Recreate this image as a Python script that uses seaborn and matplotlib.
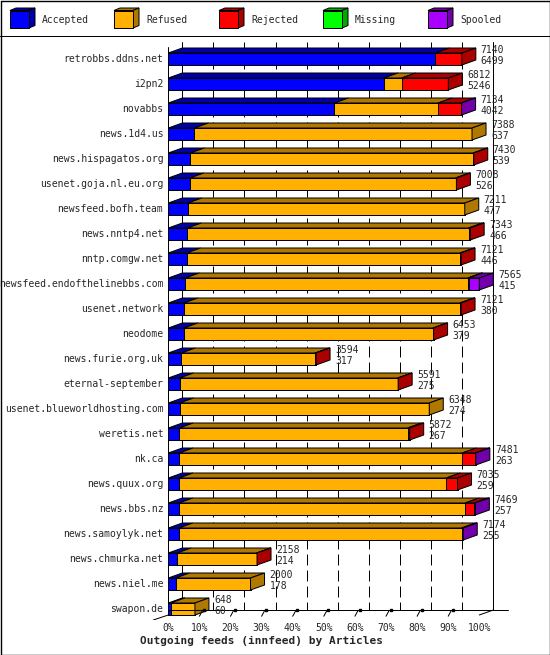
import numpy as np
import pandas as pd
import matplotlib
matplotlib.use("Agg")
import matplotlib.pyplot as plt
from matplotlib.patches import Polygon, Rectangle
from matplotlib.collections import LineCollection
import seaborn as sns

# ---------------- data ----------------
hosts = ["retrobbs.ddns.net", "i2pn2", "novabbs", "news.1d4.us", "news.hispagatos.org",
         "usenet.goja.nl.eu.org", "newsfeed.bofh.team", "news.nntp4.net", "nntp.comgw.net",
         "newsfeed.endofthelinebbs.com", "usenet.network", "neodome", "news.furie.org.uk",
         "eternal-september", "usenet.blueworldhosting.com", "weretis.net", "nk.ca",
         "news.quux.org", "news.bbs.nz", "news.samoylyk.net", "news.chmurka.net",
         "news.niel.me", "swapon.de"]
totals = [7140, 6812, 7134, 7388, 7430, 7008, 7211, 7343, 7121, 7565, 7121, 6453, 3594,
          5591, 6348, 5872, 7481, 7035, 7469, 7174, 2158, 2000, 648]
accepted = [6499, 5246, 4042, 637, 539, 526, 477, 466, 446, 415, 380, 379, 317,
            275, 274, 267, 263, 259, 257, 255, 214, 178, 60]
refused = [0, 430, 2522, 6751, 6876, 6462, 6734, 6837, 6650, 6870, 6711, 6059, 3257,
           5306, 6074, 5555, 6888, 6501, 6962, 6879, 1936, 1822, 588]
rejected = [641, 1136, 555, 0, 15, 20, 0, 40, 25, 20, 30, 15, 20,
            10, 0, 50, 310, 275, 220, 0, 8, 0, 0]
missing = [0, 0, 0, 0, 0, 0, 0, 0, 0, 0, 0, 0, 0,
           0, 0, 0, 0, 0, 0, 0, 0, 0, 0]
spooled = [0, 0, 15, 0, 0, 0, 0, 0, 0, 260, 0, 0, 0,
           0, 0, 0, 20, 0, 30, 40, 0, 0, 0]
series_names = ["Accepted", "Refused", "Rejected", "Missing", "Spooled"]
front_colors = ["#0000ff", "#ffb000", "#ff0000", "#00ff00", "#aa00ff"]
dark_colors = ["#0000aa", "#b07800", "#aa0000", "#00aa00", "#7100aa"]
xtick_values = [0, 10, 20, 30, 40, 50, 60, 70, 80, 90, 100]
xtick_labels = ["0%", "10%", "20%", "30%", "40%", "50%", "60%", "70%", "80%", "90%", "100%"]
title = "Outgoing feeds (innfeed) by Articles"

# ---------------- style ----------------
sns.set_theme(style="white")
plt.rcParams['font.family'] = ['DejaVu Sans Mono', 'DejaVu Sans']
FS = 7.0
LW = 0.72   # 1 px at 100 dpi

W, H = 550, 655
fig = plt.figure(figsize=(W / 100, H / 100), dpi=100)
fig.patch.set_facecolor("white")

# main axes: 0% at x=168.3px, 3.11 px per percent; row i at y=59+25*i px
PXP = 3.11
X0 = 168.3
ax_l, ax_r, ax_t, ax_b = 140, 548, 36, 620
ax = fig.add_axes([ax_l / W, 1 - ax_b / H, (ax_r - ax_l) / W, (ax_b - ax_t) / H])
ax.set_facecolor("none")

scale = max(totals)
df = pd.DataFrame({"host": hosts, "Accepted": accepted, "Refused": refused,
                   "Rejected": rejected, "Missing": missing, "Spooled": spooled})
seg = df[series_names].to_numpy(dtype=float) / scale * 100.0
cum = np.cumsum(seg, axis=1)
n = len(hosts)

BH = 0.48          # bar height (rows)
DX = 14 / PXP      # depth in percent
DY = 5 / 25        # depth in rows

# frame of the 3D chart (back wall grid first)
row_top_back = (42 - 59) / 25
row_top_front = (47 - 59) / 25
row_floor_back = (610 - 59) / 25
row_floor_front = (615 - 59) / 25
DASH_ON, DASH_OFF = 11 / 25, 5 / 25
grid_segments = []
for p in xtick_values[1:-1]:
    y = row_top_back
    while y < row_floor_back:
        grid_segments.append([(p + DX, y), (p + DX, min(y + DASH_ON, row_floor_back))])
        y += DASH_ON + DASH_OFF
gc = LineCollection(grid_segments, colors="black", linewidths=LW, zorder=1)
gc.set_snap(True)
ax.add_collection(gc)
ax.plot([DX, DX], [row_top_back, row_floor_back], color="black", lw=LW, zorder=1, snap=True)
ax.plot([100 + DX, 100 + DX], [row_top_back, row_floor_back], color="black", lw=LW,
        zorder=1, snap=True)

# front faces via seaborn (stacked by overdrawing cumulative sums)
for k in range(len(series_names) - 1, -1, -1):
    d = pd.DataFrame({"host": hosts, "v": cum[:, k]})
    sns.barplot(data=d, x="v", y="host", orient="h", color=front_colors[k],
                saturation=1, width=BH, edgecolor="black", linewidth=LW, ax=ax, zorder=3)

# top faces and side faces
for i in range(n):
    top = i - BH / 2
    bot = i + BH / 2
    start = 0.0
    last_k = 0
    for k in range(len(series_names)):
        a, b = start, cum[i, k]
        if b > a + 1e-9:
            ax.add_patch(Polygon([(a, top), (b, top), (b + DX, top - DY), (a + DX, top - DY)],
                                 closed=True, facecolor=dark_colors[k], edgecolor="black",
                                 linewidth=LW, zorder=3))
            last_k = k
        start = b
    tot = cum[i, -1]
    ax.add_patch(Polygon([(tot, top), (tot + DX, top - DY), (tot + DX, bot - DY), (tot, bot)],
                         closed=True, facecolor=dark_colors[last_k], edgecolor="black",
                         linewidth=LW, zorder=3))
    # value labels
    tx = tot + DX + 5 / PXP
    ax.text(tx, i - 0.36, str(totals[i]), ha="left", va="center", fontsize=FS, zorder=5)
    ax.text(tx, i + 0.08, str(accepted[i]), ha="left", va="center", fontsize=FS, zorder=5)
    # host labels
    ax.text(-5 / PXP, i, hosts[i], ha="right", va="center", fontsize=FS, zorder=5)

# front axis and floor
ax.plot([0, 0], [row_top_front, row_floor_front], color="black", lw=LW, zorder=4, snap=True)
ax.plot([0, 100 + DX + 15 / PXP], [row_floor_back, row_floor_back], color="black", lw=LW,
        zorder=4, snap=True)
ax.plot([-15 / PXP, 0], [row_floor_front + 0.2, row_floor_front], color="black", lw=LW, zorder=4)
ax.plot([100, 100 + DX], [row_floor_front, row_floor_back], color="black", lw=LW, zorder=4)
for p in xtick_values[1:-1]:
    ax.plot([p, p + 1.0], [row_floor_front + 0.05, row_floor_back + 0.02], color="black",
            lw=LW, zorder=4)
    ax.plot([p + 1.5], [row_floor_back], marker="s", markersize=2, color="black", zorder=4)

ax.set_xlim((ax_l - X0) / PXP, (ax_r - X0) / PXP)
ax.set_ylim((ax_b - 59) / 25, (ax_t - 59) / 25)
ax.set_yticks([])
ax.set_xticks(xtick_values)
ax.set_xticklabels(xtick_labels, fontsize=FS)
ax.tick_params(axis="x", length=0, pad=2.5)
ax.set_xlabel("")
ax.set_ylabel("")
for s in ax.spines.values():
    s.set_visible(False)

# ---------------- decorations (legend, frame, title) ----------------
ov = fig.add_axes([0, 0, 1, 1])
ov.set_xlim(0, W)
ov.set_ylim(H, 0)
ov.axis("off")
ov.set_facecolor("none")
ov.plot([0.5, W - 0.5, W - 0.5, 0.5, 0.5], [0.5, 0.5, H - 0.5, H - 0.5, 0.5],
        color="black", lw=LW * 1.4, snap=True)
ov.plot([0, W], [35.5, 35.5], color="black", lw=LW, snap=True)
leg_x = [10, 114, 219, 323, 428]
cw, ch, cdx, cdy, cy = 19, 17.5, 6, 2.5, 10.5
for k, name in enumerate(series_names):
    x = leg_x[k]
    ov.add_patch(Polygon([(x, cy), (x + cw, cy), (x + cw + cdx, cy - cdy), (x + cdx, cy - cdy)],
                         closed=True, facecolor=dark_colors[k], edgecolor="black", lw=LW))
    ov.add_patch(Polygon([(x + cw, cy), (x + cw + cdx, cy - cdy), (x + cw + cdx, cy + ch - cdy),
                          (x + cw, cy + ch)], closed=True, facecolor=dark_colors[k],
                         edgecolor="black", lw=LW))
    ov.add_patch(Rectangle((x, cy), cw, ch, facecolor=front_colors[k], edgecolor="black", lw=LW))
    ov.text(x + 32, 20, name, ha="left", va="center", fontsize=FS)
ov.text(261, 641, title, ha="center", va="center", fontsize=8.0, fontweight="bold")

fig.savefig("out.png", dpi=100)
